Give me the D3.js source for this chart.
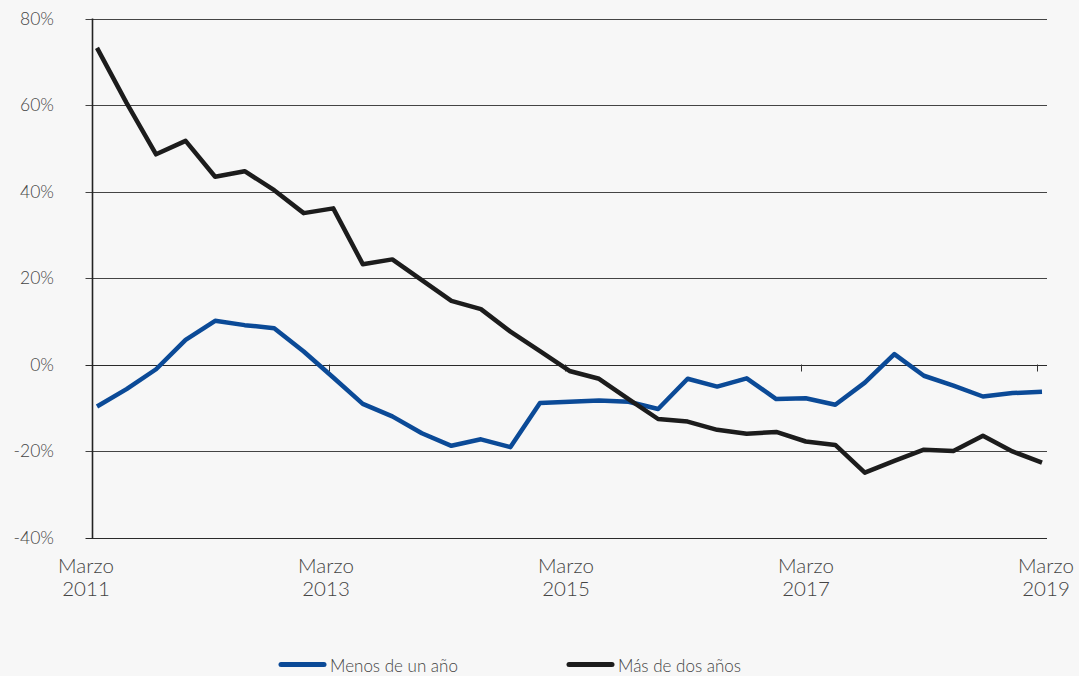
<!DOCTYPE html>
<html><head><meta charset="utf-8">
<script src="https://cdn.jsdelivr.net/npm/d3@7/dist/d3.min.js"></script>
<style>
html,body{margin:0;padding:0;background:#f7f7f7;}
svg{display:block;font-family:Lato,"Open Sans",sans-serif;font-weight:300;}
</style></head>
<body><svg id="chart" width="1079" height="676"></svg>
<script>
const categories = [
 "Mar 2011","Jun 2011","Sep 2011","Dic 2011","Mar 2012","Jun 2012","Sep 2012","Dic 2012",
 "Mar 2013","Jun 2013","Sep 2013","Dic 2013","Mar 2014","Jun 2014","Sep 2014","Dic 2014",
 "Mar 2015","Jun 2015","Sep 2015","Dic 2015","Mar 2016","Jun 2016","Sep 2016","Dic 2016",
 "Mar 2017","Jun 2017","Sep 2017","Dic 2017","Mar 2018","Jun 2018","Sep 2018","Dic 2018",
 "Mar 2019"];
const menosDeUnAno = [-9.7,-5.7,-1.1,5.7,10.1,9.1,8.4,3.0,-3.0,-9.1,-12.0,-15.9,-18.8,-17.3,-19.1,-8.9,
 -8.6,-8.3,-8.6,-10.3,-3.3,-5.1,-3.2,-8.0,-7.8,-9.3,-4.2,2.4,-2.6,-4.9,-7.4,-6.6,-6.3];
const masDeDosAnos = [73.2,60.5,48.6,51.7,43.4,44.7,40.3,35.0,36.1,23.2,24.3,19.5,14.7,12.8,7.6,3.1,
 -1.5,-3.3,-8.0,-12.6,-13.2,-15.1,-16.0,-15.6,-17.8,-18.6,-25.0,-22.3,-19.7,-20.0,-16.5,-20.1,-22.7];
const yTicks = [-40,-20,0,20,40,60,80];
const xLabelIdx = [0,8,16,24,32];
const xLabels = [["Marzo","2011"],["Marzo","2013"],["Marzo","2015"],["Marzo","2017"],["Marzo","2019"]];
const seriesNames = ["Menos de un año","Más de dos años"];
const seriesColors = ["#0b4a97","#1c1c1c"];

(function(){
const svg = d3.select("#chart");
const pL = 92.5, pR = 1047, pT = 18.5, pB = 537.5;
const x = d3.scaleLinear().domain([0, categories.length-1]).range([97, 1042]);
const xLab = d3.scaleLinear().domain([0, categories.length-1]).range([86, 1046]);
const xTick = d3.scaleLinear().domain([0, categories.length-1]).range([92.5, 1036.5]);
const y = d3.scaleLinear().domain([-40, 80]).range([pB, pT]);

// gridlines
svg.append("g").selectAll("line").data(yTicks).join("line")
  .attr("x1", pL - 7).attr("x2", pR)
  .attr("y1", d => Math.round(y(d)) + 0.5).attr("y2", d => Math.round(y(d)) + 0.5)
  .attr("stroke", d => (d === 0 || d === -40) ? "#2a2a2a" : "#444").attr("stroke-width", 1);

// y axis line
svg.append("line").attr("x1", pL).attr("x2", pL).attr("y1", pT).attr("y2", pB + 1)
  .attr("stroke", "#222").attr("stroke-width", 1.6);

// y labels
svg.append("g").selectAll("text").data(yTicks).join("text")
  .attr("x", 54).attr("y", d => y(d) + 6)
  .attr("text-anchor", "end").attr("font-size", 17.5).attr("fill", "#444")
  .text(d => d + "%");

// x ticks on zero line
svg.append("g").selectAll("line").data(xLabelIdx.slice(1)).join("line")
  .attr("x1", d => Math.round(xTick(d)) + 0.5).attr("x2", d => Math.round(xTick(d)) + 0.5)
  .attr("y1", y(0)).attr("y2", y(0) + 7)
  .attr("stroke", "#333").attr("stroke-width", 1);

// x labels
const xl = svg.append("g").selectAll("text").data(xLabelIdx).join("text")
  .attr("text-anchor", "middle").attr("font-size", 20.5).attr("fill", "#444");
xl.append("tspan").attr("x", d => xLab(d)).attr("y", 573).text((d,i) => xLabels[i][0]);
xl.append("tspan").attr("x", d => xLab(d)).attr("y", 595.5).text((d,i) => xLabels[i][1]);

// lines
const line = d3.line().x((d,i) => x(i)).y(d => y(d));
[menosDeUnAno, masDeDosAnos].forEach((s, i) => {
  svg.append("path").datum(s).attr("d", line)
    .attr("fill", "none").attr("stroke", seriesColors[i]).attr("stroke-width", 4.5)
    .attr("stroke-linejoin", "round");
});

// legend
const legX = [281, 569];
const lg = svg.append("g").selectAll("g").data(seriesNames).join("g")
  .attr("transform", (d,i) => `translate(${legX[i]},664.5)`);
lg.append("line").attr("x1", 0).attr("x2", 43).attr("y1", 0).attr("y2", 0)
  .attr("stroke", (d,i) => seriesColors[i]).attr("stroke-width", 5).attr("stroke-linecap", "round");
lg.append("text").attr("x", 49).attr("y", 7).attr("font-size", 17).attr("fill", "#444").text(d => d);
})();
</script></body></html>
